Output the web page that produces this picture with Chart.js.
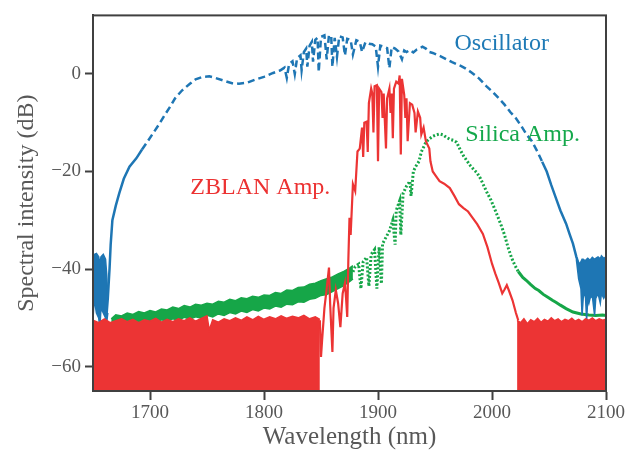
<!DOCTYPE html>
<html>
<head>
<meta charset="utf-8">
<script src="https://cdn.jsdelivr.net/npm/chart.js@4.4.1/dist/chart.umd.min.js"></script>
<style>
html,body{margin:0;padding:0;background:#fff;}
#c{display:block;}
</style>
</head>
<body>
<canvas id="c" width="628" height="450"></canvas>
<script>
// ---- Data ----
const xTicks = [1700, 1800, 1900, 2000, 2100];
const yTicks = [-60, -40, -20, 0];

// Oscillator spectrum (blue): noisy edge bands (upper / lower envelope) and main trace
const oscNoiseLWl = [1650,1651,1653,1655,1656,1657,1659,1661,1662,1663];
const oscNoiseLHi = [-38.5,-37,-36.8,-37.5,-39,-37.5,-37,-38,-41,-46];
const oscNoiseLLo = [-50.5,-46,-49,-50,-52,-48,-49,-50,-51,-49];
const oscNoiseRWl = [2074,2076,2078,2079,2080,2081,2082,2083,2084,2085,2086,2088,2090,2091,2093,2095,2096,2098,2100];
const oscNoiseRHi = [-37.5,-39,-38.5,-38,-38,-38.2,-38.3,-38,-37.8,-38,-38.2,-37.6,-38,-37.8,-37.5,-37.9,-37.3,-37.8,-37.5];
const oscNoiseRLo = [-38,-42,-44,-49.5,-46,-45,-45.5,-50.5,-46,-47,-46,-45.5,-49.5,-46,-45,-47,-45,-46,-45];
const oscWl = [1662,1663,1664.5,1665.5,1667,1670,1673,1677,1682,1688,1693,1698,1702,1708,1713,1718,1722,1728,1735,1740,1746,1752,1757,1765,1772,1778,1785,1792,1800,1808,1814,1818,1820,1822,1825,1827,1829,1832,1833,1835,1837,1838,1840,1842,1843,1845,1847,1848,1850,1853,1855,1857,1859,1860,1862,1864,1866,1869,1871,1873,1876,1878,1881,1884,1886,1889,1892,1895,1898,1900,1902,1905,1908,1910,1912,1915,1918,1921,1923,1925,1928,1931,1934,1937,1939,1942,1945,1948,1951,1955,1960,1965,1969,1973,1977,1982,1989,1995,2001,2006,2011,2016,2021,2026,2030,2035,2040,2044,2048,2052,2056,2060,2065,2068,2071,2074,2076];
const oscDb = [-49,-46,-40,-35,-30,-27,-24.5,-21.5,-19,-17.3,-15.5,-13.8,-12.4,-10.3,-8.4,-6.6,-5,-3.4,-2,-1.1,-0.6,-0.5,-0.8,-1.4,-1.9,-2.0,-1.8,-1.2,-0.6,0.2,0.7,1.3,-0.8,2.0,2.6,0.0,3.2,3.8,0.8,4.5,5.2,1.5,5.8,6.6,2.5,7.0,7.4,0.4,7.6,7.9,3.0,8.0,7.6,1.5,7.4,3.5,7.7,7.5,3.8,7.2,7.0,4.0,6.9,6.6,4.5,6.5,6.2,6.1,5.6,1.5,5.8,5.6,5.3,1.2,5.5,5.2,4.6,3.0,4.8,4.5,4.9,4.4,5.0,5.3,5.6,5.2,4.5,4.3,4.0,3.6,3.0,2.4,2.0,1.6,1.1,0.3,-1.0,-2.5,-3.8,-5.0,-6.3,-7.8,-9.1,-10.8,-12.3,-13.8,-16,-18,-20,-22.8,-25.4,-28,-30.7,-32.8,-34.8,-37.5,-39];

// ZBLAN amplifier (red): noise floor left, main spectrum, noise floor right
const zbFloorLWl = [1650,1655,1660,1665,1670,1675,1680,1685,1690,1695,1700,1705,1710,1715,1720,1725,1730,1735,1740,1745,1750,1752,1755,1760,1765,1770,1775,1780,1785,1790,1795,1800,1805,1810,1815,1820,1825,1830,1835,1840,1845,1849];
const zbFloorLDb = [-50.5,-51,-50.2,-51,-50.6,-50.2,-50.8,-50.3,-51,-50.4,-50.7,-50.1,-50.9,-50.3,-50.8,-50.2,-50.6,-50.0,-50.7,-50.1,-49.6,-52.5,-50.4,-50.9,-50.2,-50.6,-50.0,-50.5,-49.8,-50.4,-49.7,-50.3,-49.8,-50.2,-49.6,-50.1,-49.7,-50.0,-49.5,-50.2,-49.8,-50.3];
const zbWl = [1849,1850,1851,1853,1855,1857,1858,1860,1861,1863,1865,1867,1869,1871,1872,1873,1874,1875,1876,1878,1880,1882,1884,1886,1887,1888,1890,1891,1892,1894,1895,1896,1897,1899,1900,1901,1903,1904,1905,1907,1908,1910,1911,1912,1913,1914,1916,1918,1919,1920,1921,1923,1924,1925,1926,1928,1930,1932,1933,1935,1937,1938,1940,1942,1945,1946,1948,1951,1954,1958,1963,1967,1971,1975,1979,1983,1987,1992,1996,2000,2003,2006,2009,2011,2013,2015,2018,2021,2023];
const zbDb = [-50.5,-58,-54.5,-48,-44,-39.7,-47,-57,-48,-44.3,-47,-51.9,-45,-42.9,-46,-49.8,-38,-29.5,-33,-22.6,-24,-15.9,-15.3,-11,-17,-10,-9.8,-16,-6,-3,-4,-12,-2.5,-2.3,-17.9,-3,-3.7,-9,-4,-15.3,-5,-3,-8,-4,-13.2,-3,-1.6,-2,-0.3,-16.5,-1,-4.3,-9,-5,-13.8,-6,-6.3,-8,-12,-7.7,-9,-12.4,-11,-13.8,-15.3,-17.9,-20,-21,-22,-22.5,-23.4,-25,-26.7,-27.5,-28.2,-29.5,-30.8,-32.8,-35.5,-38.9,-41,-42.9,-45,-44.2,-43.3,-44.5,-46.4,-49,-50.5];
const zbFloorRWl = [2022,2025,2028,2031,2034,2037,2040,2043,2046,2049,2052,2055,2058,2061,2064,2067,2070,2073,2076,2079,2082,2085,2088,2091,2094,2097,2100];
const zbFloorRDb = [-50.5,-51,-50.2,-51.2,-50.4,-50.8,-50.1,-50.9,-50.3,-50.7,-50.0,-50.6,-50.2,-50.8,-50.3,-50.6,-50.1,-50.7,-50.3,-50.8,-50.2,-50.5,-50.0,-50.6,-50.2,-50.5,-50.3];

// Silica amplifier (green): dense low-level band (upper / lower envelope) and main trace
const siBandWl = [1666,1670,1675,1680,1685,1690,1695,1700,1705,1710,1715,1720,1725,1730,1735,1740,1745,1750,1755,1760,1765,1770,1775,1780,1785,1790,1795,1800,1805,1810,1815,1820,1825,1830,1835,1840,1845,1850,1855,1860,1865,1870,1875,1878];
const siBandHi = [-50.2,-49.4,-49.6,-49.0,-49.3,-48.7,-49.0,-48.5,-48.8,-48.2,-48.4,-47.8,-48.1,-47.5,-47.8,-47.2,-47.4,-47.0,-47.2,-46.6,-46.8,-46.2,-46.5,-45.9,-46.1,-45.6,-45.8,-45.3,-45.4,-44.8,-45.0,-44.3,-44.4,-43.8,-43.7,-43.1,-42.9,-42.4,-42.0,-41.6,-41.0,-40.5,-39.8,-39.3];
const siBandLo = [-51.5,-51.2,-51.4,-51.0,-51.3,-50.8,-51.1,-50.6,-50.9,-50.4,-50.7,-50.2,-50.5,-49.9,-50.3,-49.8,-50.1,-49.5,-49.8,-49.2,-49.5,-48.9,-49.2,-48.6,-48.9,-48.3,-48.6,-48.0,-48.2,-47.6,-47.8,-47.2,-47.3,-46.7,-46.8,-46.2,-46.0,-45.4,-45.2,-44.6,-44.0,-43.4,-42.6,-42.0];
const siWl = [1875,1878,1880,1883,1885,1887,1890,1892,1894,1897,1899,1901,1903,1904,1907,1910,1913,1915,1916,1919,1920,1922,1925,1928,1929,1931,1933,1936,1938,1940,1942,1945,1948,1951,1954,1957,1960,1963,1966,1969,1972,1975,1978,1981,1984,1987,1990,1993,1996,1999,2002,2005,2008,2011,2014,2017,2020,2023,2027,2030,2034,2038,2041,2045,2049,2053,2056,2060,2065,2071,2078,2085,2091,2097,2100];
const siDb = [-41,-40.6,-39.5,-39,-44,-38.5,-37.6,-43.5,-37,-36,-44,-35.5,-43,-34.8,-33.5,-32.2,-30,-35,-28,-26,-33,-24.5,-23,-22,-25,-20,-19,-17.9,-16,-15,-14,-13.3,-12.8,-12.5,-12.3,-12.5,-13,-13.4,-13.6,-14,-15.5,-16.8,-17.8,-18.8,-19.6,-20.3,-21.5,-23,-24.5,-25.8,-27.5,-29.2,-31,-33,-35.5,-37.6,-39.2,-40.5,-41.7,-42.3,-43.2,-44,-44.4,-45.2,-45.8,-46.4,-46.8,-47.4,-48.1,-48.8,-49.2,-49.4,-49.5,-49.4,-49.5];

// Text labels placed in data coordinates
const labels = [
  {text: 'Oscillator',  x: 1967,   y: 6.3,   color: 'rgb(30,122,182)'},
  {text: 'Silica Amp.', x: 1976.6, y: -12.4, color: 'rgb(20,168,75)'},
  {text: 'ZBLAN Amp.',  x: 1735.4, y: -23.4, color: 'rgb(236,50,50)'}
];

const BLUE = 'rgb(30,118,180)';
const RED = 'rgb(236,52,52)';
const GREEN = 'rgb(22,166,72)';
const FRAME = 'rgb(64,64,64)';
const TXT = 'rgb(88,88,88)';
const FONT = "'Liberation Serif', 'DejaVu Serif', serif";

const pts = (xs, ys) => xs.map((x, i) => ({x: x, y: ys[i]}));

const framePlugin = {
  id: 'frame',
  afterDatasetsDraw(chart) {
    const a = chart.chartArea, ctx = chart.ctx;
    ctx.save();
    ctx.strokeStyle = FRAME;
    ctx.lineWidth = 2;
    ctx.strokeRect(a.left, a.top, a.right - a.left, a.bottom - a.top);
    ctx.restore();
  }
};
const labelPlugin = {
  id: 'labels',
  afterDatasetsDraw(chart) {
    const ctx = chart.ctx, xs = chart.scales.x, ys = chart.scales.y;
    ctx.save();
    ctx.font = "24px " + FONT;
    ctx.textAlign = 'left';
    ctx.textBaseline = 'middle';
    labels.forEach(l => {
      ctx.fillStyle = l.color;
      ctx.fillText(l.text, xs.getPixelForValue(l.x), ys.getPixelForValue(l.y));
    });
    ctx.restore();
  }
};

const dashOsc = ctx => (ctx.p0.parsed.x >= 1692 && ctx.p1.parsed.x <= 2046) ? [7, 4] : [];
const dashSi = ctx => (ctx.p1.parsed.x <= 2025) ? [2, 2] : [];
const base = {pointRadius: 0, tension: 0};

new Chart(document.getElementById('c'), {
  type: 'line',
  data: {
    datasets: [
      Object.assign({label: 'ZBLAN floor L', data: pts(zbFloorLWl, zbFloorLDb), borderColor: RED, backgroundColor: RED, borderWidth: 1.5, fill: 'start'}, base),
      Object.assign({label: 'ZBLAN Amp.', data: pts(zbWl, zbDb), borderColor: RED, borderWidth: 2.2, fill: false}, base),
      Object.assign({label: 'ZBLAN floor R', data: pts(zbFloorRWl, zbFloorRDb), borderColor: RED, backgroundColor: RED, borderWidth: 1.5, fill: 'start'}, base),
      Object.assign({label: 'Osc noise L hi', data: pts(oscNoiseLWl, oscNoiseLHi), borderColor: BLUE, backgroundColor: BLUE, borderWidth: 1.5, fill: '+1'}, base),
      Object.assign({label: 'Osc noise L lo', data: pts(oscNoiseLWl, oscNoiseLLo), borderColor: BLUE, borderWidth: 1.5, fill: false}, base),
      Object.assign({label: 'Osc noise R hi', data: pts(oscNoiseRWl, oscNoiseRHi), borderColor: BLUE, backgroundColor: BLUE, borderWidth: 1.5, fill: '+1'}, base),
      Object.assign({label: 'Osc noise R lo', data: pts(oscNoiseRWl, oscNoiseRLo), borderColor: BLUE, borderWidth: 1.5, fill: false}, base),
      Object.assign({label: 'Oscillator', data: pts(oscWl, oscDb), borderColor: BLUE, borderWidth: 2.5, fill: false, segment: {borderDash: dashOsc}}, base),
      Object.assign({label: 'Silica band hi', data: pts(siBandWl, siBandHi), borderColor: GREEN, backgroundColor: GREEN, borderWidth: 1.5, fill: '+1'}, base),
      Object.assign({label: 'Silica band lo', data: pts(siBandWl, siBandLo), borderColor: GREEN, borderWidth: 1.5, fill: false}, base),
      Object.assign({label: 'Silica Amp.', data: pts(siWl, siDb), borderColor: GREEN, borderWidth: 3, fill: false, segment: {borderDash: dashSi}}, base)
    ]
  },
  options: {
    responsive: false,
    animation: false,
    devicePixelRatio: 1,
    layout: {padding: {left: 0, right: 22, top: 13, bottom: 0}},
    plugins: {legend: {display: false}, tooltip: {enabled: false}},
    scales: {
      x: {
        type: 'linear', min: 1650, max: 2100,
        afterBuildTicks: s => { s.ticks = xTicks.map(v => ({value: v})); },
        afterFit: s => { s.height = 59; },
        grid: {display: true, drawOnChartArea: false, drawTicks: true, tickLength: 9, tickColor: FRAME, tickWidth: 2},
        border: {display: true, color: FRAME, width: 2},
        ticks: {color: TXT, font: {family: FONT, size: 19}, padding: 2, maxRotation: 0, callback: v => String(v)},
        title: {display: true, text: 'Wavelength (nm)', color: TXT, font: {family: FONT, size: 25, lineHeight: 1}, padding: {top: 0, bottom: 0}}
      },
      y: {
        type: 'linear', min: -65, max: 12,
        afterBuildTicks: s => { s.ticks = yTicks.map(v => ({value: v})); },
        afterFit: s => { s.width = 93; },
        grid: {display: true, drawOnChartArea: false, drawTicks: true, tickLength: 8, tickColor: FRAME, tickWidth: 2},
        border: {display: true, color: FRAME, width: 2},
        ticks: {color: TXT, font: {family: FONT, size: 19}, padding: 4, callback: v => String(v).replace('-', '\u2212')},
        title: {display: true, text: 'Spectral intensity (dB)', color: TXT, font: {family: FONT, size: 24}, padding: {top: 12, bottom: 0}}
      }
    }
  },
  plugins: [framePlugin, labelPlugin]
});
</script>
</body>
</html>
